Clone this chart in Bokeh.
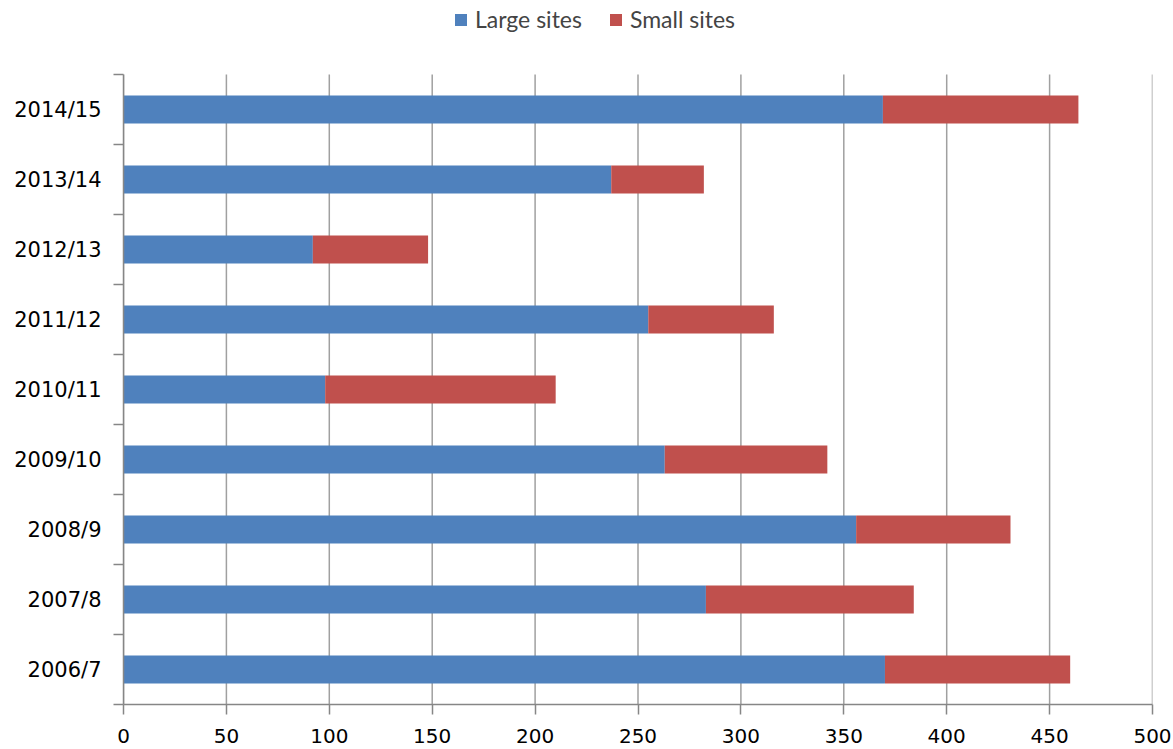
from bokeh.plotting import figure
from bokeh.models import ColumnDataSource, Range1d, FixedTicker, CustomJSTickFormatter, Legend
from bokeh.embed import file_html
from bokeh.resources import INLINE

years = ["2006/7", "2007/8", "2008/9", "2009/10", "2010/11", "2011/12", "2012/13", "2013/14", "2014/15"]
large_sites = [370, 283, 356, 263, 98, 255, 92, 237, 369]
small_sites = [90, 101, 75, 79, 112, 61, 56, 45, 95]
x_ticks = [0, 50, 100, 150, 200, 250, 300, 350, 400, 450, 500]

n = len(years)
pos = [i + 0.5 for i in range(n)]
src = ColumnDataSource(dict(y=pos, large=large_sites, small=small_sites))

frame_h = 704          # frame spans from top of canvas to the x axis
plot_h = 630           # height used by the category bands
y_end = n * frame_h / plot_h

p = figure(width=1173, height=749, output_backend="svg", toolbar_location=None,
           x_range=Range1d(0, 500), y_range=Range1d(0, y_end),
           min_border_left=123, min_border_right=21, min_border_top=0, min_border_bottom=45)
p.outline_line_color = None
p.background_fill_color = "white"

# vertical grid lines (own segments so they stop at the top of the category area)
p.segment(x0=x_ticks, y0=[0] * len(x_ticks), x1=x_ticks, y1=[n] * len(x_ticks),
          line_color="#A0A0A0", line_width=1.5)

r = p.hbar_stack(["large", "small"], y="y", height=0.4, source=src,
                 color=["#4F81BD", "#C0504D"], line_color=None)

legend = Legend(items=[("Large sites", [r[0]]), ("Small sites", [r[1]])],
                orientation="horizontal", location=(330, 671),
                label_text_font="Lato", label_text_font_size="23px",
                glyph_width=15, glyph_height=15, spacing=26, label_standoff=7,
                border_line_color=None, background_fill_alpha=0, margin=0, padding=4)
p.add_layout(legend, "center")

# x axis
xa = p.xaxis[0]
xa.ticker = FixedTicker(ticks=x_ticks)
xa.axis_line_color = "#868686"
xa.axis_line_width = 1.5
xa.major_tick_line_color = "#868686"
xa.major_tick_line_width = 1.5
xa.major_tick_out = 10
xa.major_tick_in = 0
xa.minor_tick_line_color = None
xa.major_label_text_font = "DejaVu Sans"
xa.major_label_text_font_size = "20px"
xa.major_label_text_color = "black"
xa.major_label_standoff = 14

# y axis
ya = p.yaxis[0]
ya.bounds = (0, n)
ya.ticker = FixedTicker(ticks=pos, minor_ticks=list(range(n + 1)))
ya.formatter = CustomJSTickFormatter(args=dict(labels=years),
                                     code="const i = Math.floor(tick); return (i >= 0 && i < labels.length) ? labels[i] : '';")
ya.axis_line_color = "#868686"
ya.axis_line_width = 1.5
ya.major_tick_line_color = None
ya.major_tick_out = 0
ya.major_tick_in = 0
ya.minor_tick_line_color = "#868686"
ya.minor_tick_line_width = 1.5
ya.minor_tick_out = 10
ya.minor_tick_in = 0
ya.major_label_text_font = "DejaVu Sans"
ya.major_label_text_font_size = "21px"
ya.major_label_text_color = "black"
ya.major_label_standoff = 12

p.xgrid.grid_line_color = None
p.ygrid.grid_line_color = None

open("out.html", "w").write(file_html(p, INLINE))
